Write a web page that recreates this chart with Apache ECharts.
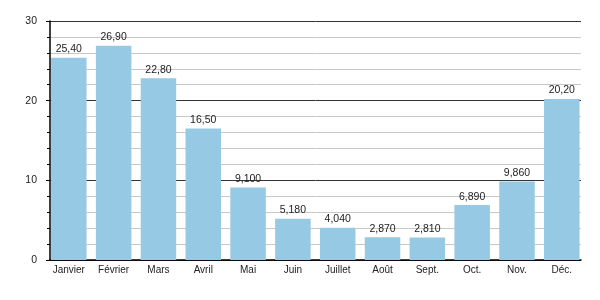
<!DOCTYPE html>
<html><head><meta charset="utf-8">
<script src="https://cdn.jsdelivr.net/npm/echarts@6/dist/echarts.min.js"></script>
<style>html,body{margin:0;padding:0;background:#fff}#c{width:600px;height:300px}</style>
</head><body><div id="c"></div>
<script>
const categories = ['Janvier','Février','Mars','Avril','Mai','Juin','Juillet','Août','Sept.','Oct.','Nov.','Déc.'];
const values = [25.4, 26.9, 22.8, 16.5, 9.1, 5.18, 4.04, 2.87, 2.81, 6.89, 9.86, 20.2];
const valueLabels = ['25,40','26,90','22,80','16,50','9,100','5,180','4,040','2,870','2,810','6,890','9,860','20,20'];
const yTicks = [0, 10, 20, 30];

const chart = echarts.init(document.getElementById('c'), null, {renderer:'canvas'});
const font = 'Liberation Sans, Arial, sans-serif';
const yMin = yTicks[0], yMax = yTicks[yTicks.length-1];
chart.setOption({
  animation: false,
  grid: [
    {left: 50, right: 19, top: 21, bottom: 40},
    {left: 46.4, right: 15.8, top: 21, bottom: 40}
  ],
  xAxis: [{
    gridIndex: 0, type: 'category', data: categories,
    axisLine: {lineStyle: {color: '#000', width: 1.5}},
    axisTick: {show: false}, axisLabel: {show: false}
  }, {
    gridIndex: 1, type: 'category', data: categories,
    axisLine: {show: false}, axisTick: {show: false},
    axisLabel: {interval: 0, color: '#222', fontSize: 10, fontFamily: font, margin: 5}
  }],
  yAxis: [{
    gridIndex: 0, type: 'value', min: yMin, max: yMax, interval: 10,
    axisLine: {show: true, lineStyle: {color: '#000', width: 1.5}},
    axisTick: {show: true, length: 4, lineStyle: {color: '#000'}},
    minorTick: {show: true, splitNumber: 5, length: 3, lineStyle: {color: '#000'}},
    splitLine: {show: true, lineStyle: {color: '#333', width: 1}},
    minorSplitLine: {show: true, lineStyle: {color: '#c8c8c8', width: 1}},
    axisLabel: {color: '#222', fontSize: 10.5, fontFamily: font, margin: 13}
  }, {
    gridIndex: 1, type: 'value', min: yMin, max: yMax, interval: 10, show: false,
    splitLine: {show: false}
  }],
  series: [{
    type: 'bar', xAxisIndex: 1, yAxisIndex: 1, data: values, barWidth: 35.5, z: 5,
    itemStyle: {color: '#96c9e4'},
    label: {show: true, position: 'top', distance: 3, color: '#222', fontSize: 10.5, fontFamily: font,
      formatter: p => valueLabels[p.dataIndex]}
  }]
});
</script></body></html>
